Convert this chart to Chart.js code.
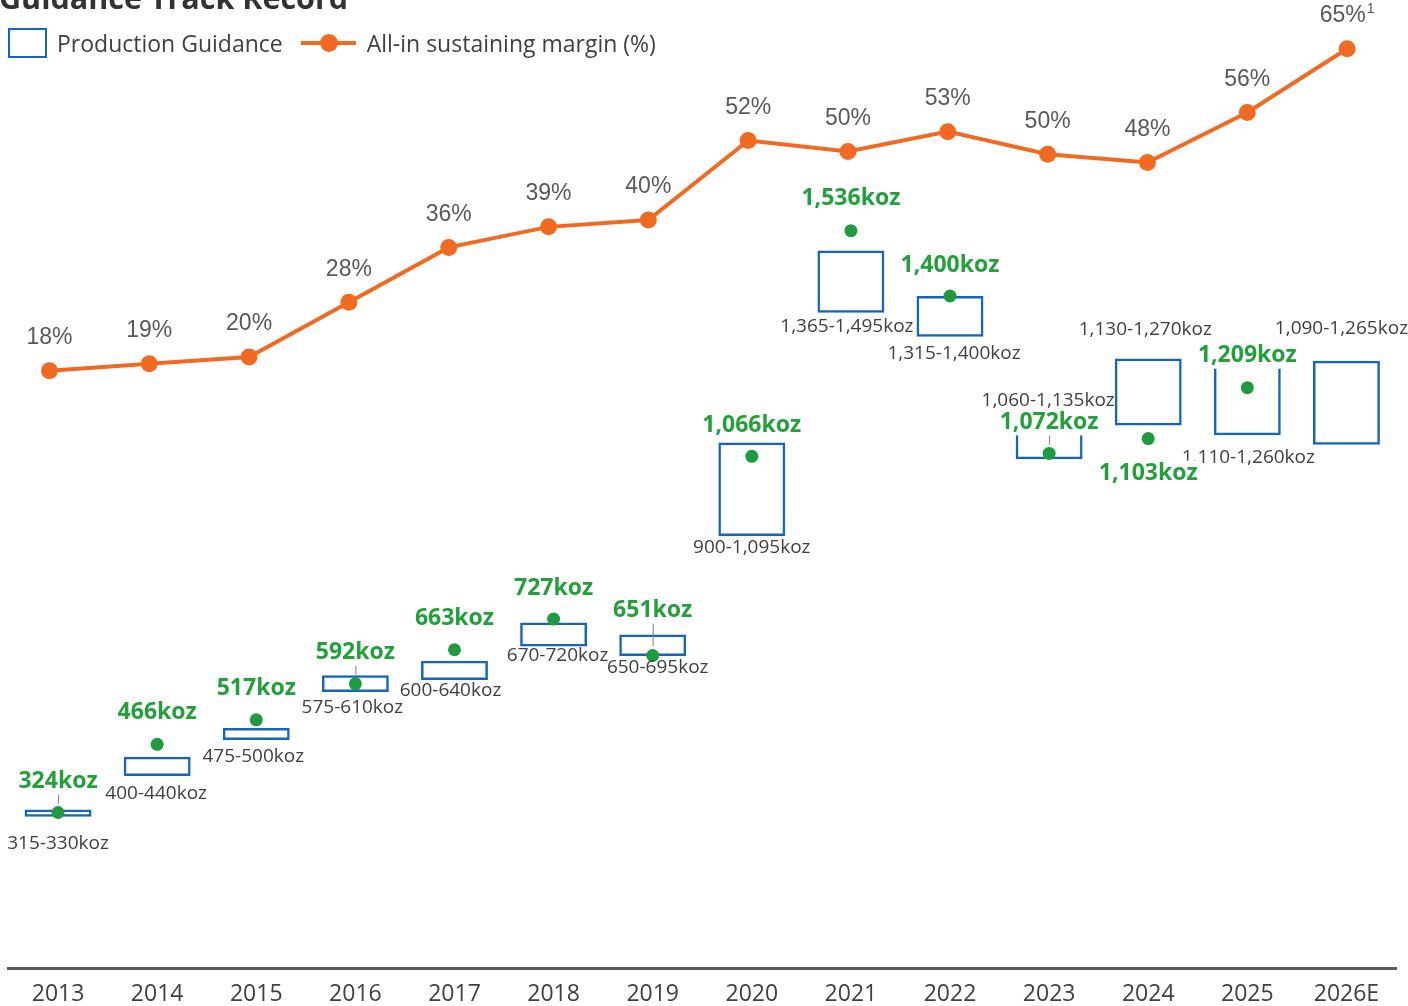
<!DOCTYPE html>
<html>
<head>
<meta charset="utf-8">
<title>Guidance Track Record</title>
<script src="https://cdn.jsdelivr.net/npm/chart.js@4.4.1/dist/chart.umd.min.js"></script>
<style>
  html, body { margin: 0; padding: 0; background: #fff; }
  #wrap { position: relative; width: 1408px; height: 1006px; overflow: hidden; }
  #title { position: absolute; left: -1px; top: -24px; font: bold 30.5px "Open Sans"; color: #333; white-space: nowrap; }
  #legend { position: absolute; left: 8px; top: 27px; height: 32px; display: flex; align-items: center; font: 23px "Open Sans"; color: #404040; white-space: nowrap; }
  .box { width: 35px; height: 26px; border: 2.5px solid #1565c0; margin-right: 10px; }
  .line { position: relative; width: 55px; height: 4px; background: #f26a21; margin: 0 11px 0 18px; }
  .line::after { content: ""; position: absolute; left: 19px; top: -7px; width: 18px; height: 18px; border-radius: 50%; background: #f26a21; }
  canvas { position: absolute; left: 0; top: 0; }
</style>
</head>
<body>
<div id="wrap">
  <canvas id="guidanceChart" width="1408" height="1006"></canvas>
  <div id="title">Guidance Track Record</div>
  <div id="legend">
    <div class="box"></div><span>Production Guidance</span>
    <div class="line"></div><span>All-in sustaining margin (%)</span>
  </div>
</div>
<script>
const years = ["2013", "2014", "2015", "2016", "2017", "2018", "2019", "2020", "2021", "2022", "2023", "2024", "2025", "2026E"];
// production guidance range, koz
const guidanceLow = [315, 400, 475, 575, 600, 670, 650, 900, 1365, 1315, 1060, 1130, 1110, 1090];
const guidanceHigh = [330, 440, 500, 610, 640, 720, 695, 1095, 1495, 1400, 1135, 1270, 1260, 1265];
// actual production, koz (none yet for 2026E)
const actualProduction = [324, 466, 517, 592, 663, 727, 651, 1066, 1536, 1400, 1072, 1103, 1209, null];
// all-in sustaining margin, % (labels show rounded values)
const aiscMargin = [18, 19, 20, 28, 36, 39, 40, 51.6, 50, 52.9, 49.6, 48.4, 55.7, 65];
const marginFootnotes = ["", "", "", "", "", "", "", "", "", "", "", "", "", "1"];

const BLUE = "#1565c0";
const GREEN = "#22a03c";
const ORANGE = "#f26a21";

// label placement (px), tuned by eye
const rangeDy = [27, 18, 17, 16, 11, 9, 12, 12, 14, 17, -23, -29, 22, -32]; // + below box, - above box
const rangeDx = [0, -1, -3, -3, -4, 4, 5, 0, -4, 4, -1, -3, 1, -5];
const actualDy = [-31, -32, -31, -31, -31, -31, -45, -31, -32, -31, -31, 35, -32, 0];
const leaderLine = [true, false, false, true, false, false, true, false, false, false, true, false, false, false];

const fmt = (v) => v.toLocaleString("en-US");

const labelsPlugin = {
  id: "guidanceLabels",
  afterDatasetsDraw(chart) {
    const ctx = chart.ctx;
    const bars = chart.getDatasetMeta(0).data;
    const dots = chart.getDatasetMeta(1).data;
    const points = chart.getDatasetMeta(2).data;
    ctx.save();
    ctx.textAlign = "center";
    ctx.textBaseline = "middle";

    // range labels
    ctx.font = "19px 'Open Sans'";
    ctx.fillStyle = "#404040";
    bars.forEach((bar, i) => {
      const top = Math.min(bar.y, bar.base);
      const bottom = Math.max(bar.y, bar.base);
      const y = rangeDy[i] >= 0 ? bottom + rangeDy[i] : top + rangeDy[i];
      ctx.fillText(fmt(guidanceLow[i]) + "-" + fmt(guidanceHigh[i]) + "koz", bar.x + rangeDx[i], y);
    });

    // actual production labels
    ctx.font = "bold 23px 'Open Sans'";
    dots.forEach((dot, i) => {
      if (actualProduction[i] == null) return;
      const text = fmt(actualProduction[i]) + "koz";
      const y = dot.y + actualDy[i];
      const w = ctx.measureText(text).width;
      ctx.fillStyle = "#fff";
      ctx.fillRect(dot.x - w / 2 - 2, y - 13, w + 4, 26);
      ctx.fillStyle = GREEN;
      ctx.fillText(text, dot.x, y);
      if (leaderLine[i]) {
        ctx.strokeStyle = "#7f7f7f";
        ctx.lineWidth = 1;
        ctx.beginPath();
        ctx.moveTo(dot.x + 0.5, y + 13);
        ctx.lineTo(dot.x + 0.5, dot.y - 9);
        ctx.stroke();
      }
    });

    // margin labels
    points.forEach((pt, i) => {
      const text = Math.round(aiscMargin[i]) + "%";
      const note = marginFootnotes[i];
      ctx.font = "23px 'Liberation Sans'";
      const w = ctx.measureText(text).width;
      ctx.font = "14px 'Liberation Sans'";
      const nw = note ? ctx.measureText(note).width + 1 : 0;
      const left = pt.x - (w + nw) / 2;
      ctx.textAlign = "left";
      ctx.fillStyle = "#595959";
      ctx.font = "23px 'Liberation Sans'";
      ctx.fillText(text, left, pt.y - 33);
      if (note) {
        ctx.font = "14px 'Liberation Sans'";
        ctx.fillText(note, left + w + 1, pt.y - 40);
      }
      ctx.textAlign = "center";
    });
    ctx.restore();
  },
};

new Chart(document.getElementById("guidanceChart"), {
  type: "bar",
  data: {
    labels: years,
    datasets: [
      {
        type: "bar",
        label: "Production Guidance",
        data: years.map((y, i) => [guidanceLow[i], guidanceHigh[i]]),
        backgroundColor: "rgba(255,255,255,0)",
        borderColor: BLUE,
        borderWidth: 2.5,
        borderSkipped: false,
        grouped: false,
        barPercentage: 0.675,
        categoryPercentage: 1,
        xAxisID: "x",
        yAxisID: "y",
        order: 3,
      },
      {
        type: "line",
        label: "Actual production",
        data: actualProduction,
        showLine: false,
        pointRadius: 6.5,
        pointBorderWidth: 0,
        pointBackgroundColor: "#1e9b3e",
        xAxisID: "x",
        yAxisID: "y",
        order: 1,
      },
      {
        type: "line",
        label: "All-in sustaining margin (%)",
        data: aiscMargin.map((v, i) => ({ x: i, y: v })),
        borderColor: ORANGE,
        borderWidth: 4,
        pointRadius: 8.5,
        pointBorderWidth: 0,
        pointBackgroundColor: ORANGE,
        tension: 0,
        xAxisID: "x2",
        yAxisID: "y1",
        order: 2,
      },
    ],
  },
  options: {
    responsive: false,
    animation: false,
    layout: { padding: { left: 7, right: 12, top: 20, bottom: 0 } },
    plugins: {
      legend: { display: false },
      tooltip: { enabled: false },
    },
    scales: {
      x: {
        type: "category",
        offset: true,
        grid: { display: false, drawTicks: false },
        border: { display: true, color: "#595959", width: 3 },
        ticks: {
          color: "#404040",
          font: { family: "Open Sans", size: 23 },
          padding: 13,
          maxRotation: 0,
          autoSkip: false,
        },
        afterFit: (scale) => { scale.height = 38; },
      },
      x2: { type: "linear", display: false, offset: false, min: -0.41, max: 13.49 },
      y: { display: false, min: 0, max: 1975 },
      y1: { display: false, min: -69.2, max: 69.2 },
    },
  },
  plugins: [labelsPlugin],
});
</script>
</body>
</html>
